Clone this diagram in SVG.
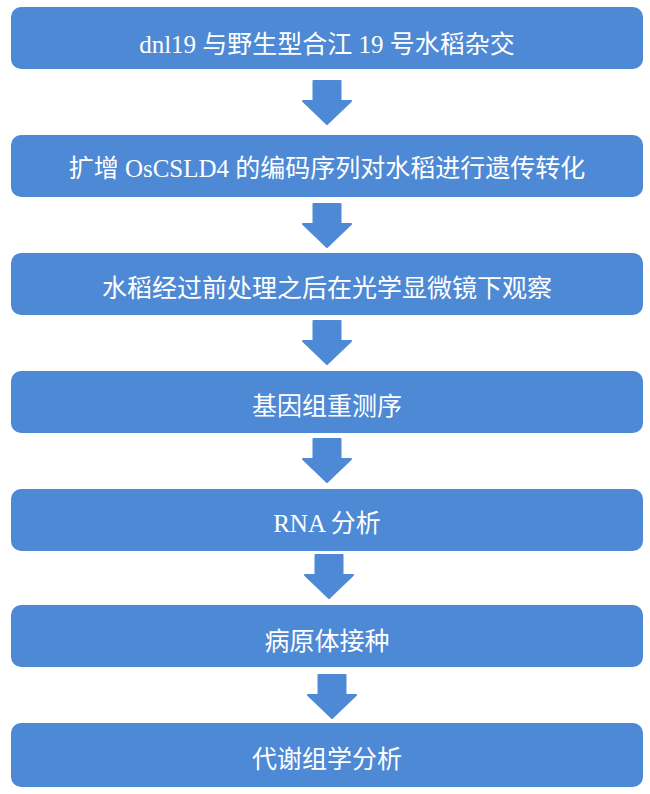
<svg xmlns="http://www.w3.org/2000/svg" width="650" height="794" viewBox="0 0 650 794">
<style>
.box{fill:#4E89D5;}
.lbl{fill:#FFFFFF;font-family:"Liberation Serif","Noto Sans CJK SC",serif;font-size:25px;text-anchor:middle;}
.arr{fill:#4E89D5;stroke:#4E89D5;stroke-width:2;stroke-linejoin:round;}
</style>
<defs>
<path id="dn" d="M-13.5,0 L13.5,0 L13.5,20 L24,20 L0,43 L-24,20 L-13.5,20 Z"/>
</defs>
<rect x="0" y="0" width="650" height="794" fill="#FFFFFF"/>
<g id="connectors">
<use href="#dn" class="arr" transform="translate(327,81)"/>
<use href="#dn" class="arr" transform="translate(327,204)"/>
<use href="#dn" class="arr" transform="translate(327,321)"/>
<use href="#dn" class="arr" transform="translate(327,439)"/>
<use href="#dn" class="arr" transform="translate(329,555)"/>
<use href="#dn" class="arr" transform="translate(332,675)"/>
</g>
<g id="n1"><rect class="box" x="11" y="7" width="632" height="62" rx="10"/><text class="lbl" x="327" y="53">dnl19 与野生型合江 19 号水稻杂交</text></g>
<g id="n2"><rect class="box" x="11" y="135" width="632" height="62" rx="10"/><text class="lbl" x="327" y="177">扩增 OsCSLD4 的编码序列对水稻进行遗传转化</text></g>
<g id="n3"><rect class="box" x="11" y="253" width="632" height="62" rx="10"/><text class="lbl" x="327" y="297">水稻经过前处理之后在光学显微镜下观察</text></g>
<g id="n4"><rect class="box" x="11" y="371" width="632" height="62" rx="10"/><text class="lbl" x="327" y="415">基因组重测序</text></g>
<g id="n5"><rect class="box" x="11" y="489" width="632" height="62" rx="10"/><text class="lbl" x="327" y="532">RNA 分析</text></g>
<g id="n6"><rect class="box" x="11" y="605" width="632" height="62" rx="10"/><text class="lbl" x="327" y="650">病原体接种</text></g>
<g id="n7"><rect class="box" x="11" y="723" width="632" height="64" rx="10"/><text class="lbl" x="327" y="768">代谢组学分析</text></g>
</svg>
